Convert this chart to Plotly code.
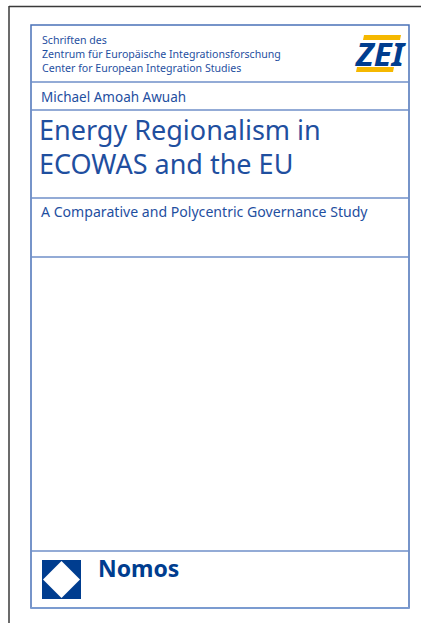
import plotly.graph_objects as go

# ---- content ----
series_lines = ["Schriften des",
                "Zentrum für Europäische Integrationsforschung",
                "Center for European Integration Studies"]
logo_text = "ZEI"
author = "Michael Amoah Awuah"
title_lines = ["Energy Regionalism in", "ECOWAS and the EU"]
subtitle = "A Comparative and Polycentric Governance Study"
publisher = "Nomos"

# ---- layout geometry ----
W, H = 421, 623
BLUE = "#1f4f9f"
LINE = "#4a72b8"
DARK = "#003d8f"
YELLOW = "#f5b800"
FONT = "Noto Sans"

fig = go.Figure()
fig.update_layout(
    width=W, height=H, margin=dict(l=0, r=0, t=0, b=0),
    paper_bgcolor="white", plot_bgcolor="white",
    xaxis=dict(range=[0, W], visible=False, fixedrange=True),
    yaxis=dict(range=[H, 0], visible=False, fixedrange=True),
    showlegend=False,
)

shapes = []
# outer page frame (top and left edge)
shapes.append(dict(type="line", x0=9, x1=W, y0=6.5, y1=6.5, line=dict(color="#3a3a3a", width=1.5)))
shapes.append(dict(type="line", x0=9, x1=9, y0=6, y1=H, line=dict(color="#3a3a3a", width=1.5)))
# inner box
shapes.append(dict(type="rect", x0=31, x1=409, y0=25, y1=608, line=dict(color=LINE, width=1.5)))
shapes.append(dict(type="line", x0=31, x1=409, y0=608, y1=608, line=dict(color="#7b9bd0", width=2)))
for yy in [82, 110, 198, 257, 551]:
    shapes.append(dict(type="line", x0=31, x1=409, y0=yy, y1=yy, line=dict(color="#6f8fc8", width=1.5)))
# ZEI logo yellow stripes
shapes.append(dict(type="path", path="M 364 35 L 401 35 L 400 40 L 363 40 Z",
                   fillcolor=YELLOW, line=dict(width=0)))
shapes.append(dict(type="path", path="M 357 67 L 394 67 L 393 72 L 356 72 Z",
                   fillcolor=YELLOW, line=dict(width=0)))
# Nomos mark
shapes.append(dict(type="rect", x0=42, x1=81, y0=560, y1=599, fillcolor=DARK, line=dict(width=0)))
shapes.append(dict(type="path", path="M 43 579.5 L 61.5 561 L 80 579.5 L 61.5 598 Z",
                   fillcolor="white", line=dict(width=0)))
fig.update_layout(shapes=shapes)

def txt(x, y, s, size, color=BLUE, weight="normal", style="normal"):
    fig.add_annotation(x=x, y=y, text=s, showarrow=False, xanchor="left", yanchor="middle",
                       xref="x", yref="y", align="left",
                       font=dict(family=FONT, size=size, color=color, weight=weight, style=style))

txt(40, 53.5, "<br>".join(series_lines), 10.6)
txt(353, 53, logo_text, 33, color=DARK, weight="bold", style="italic")
txt(39, 97, author, 13.5)
for s, yy in zip(title_lines, [129, 163]):
    txt(37, yy, s, 27)
txt(39, 211, subtitle, 14.1)
txt(96, 568, publisher, 23, color=DARK, weight="bold")

fig.write_html("out.html", config={"displayModeBar": False},
               post_script="document.body.style.margin='0';document.body.style.overflow='hidden';")
